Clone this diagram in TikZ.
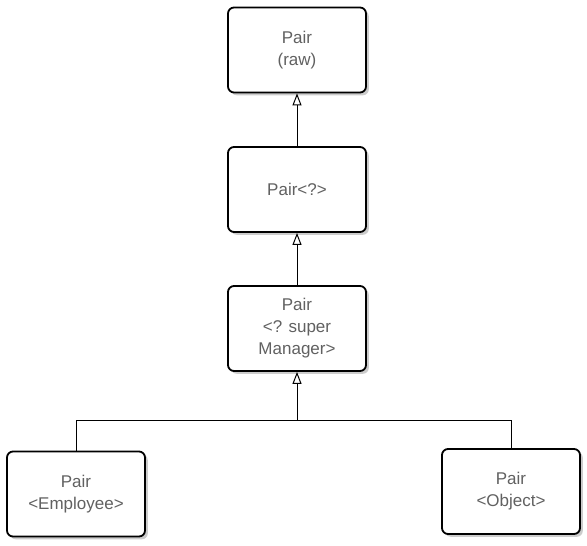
\documentclass[tikz,border=0pt]{standalone}
\usepackage{fontspec}
\setmainfont{Liberation Sans}
\usetikzlibrary{arrows.meta,shadows}

\tikzset{
  cls/.style={draw, rounded corners=3pt, line width=0.9pt, fill=white,
    minimum width=69pt, minimum height=42.5pt, align=center, text=black!62,
    font=\fontsize{8.5}{11}\selectfont,
    drop shadow={shadow xshift=1.4pt, shadow yshift=-1.4pt, fill=black!40}},
  inherit/.style={line width=0.5pt, -{Triangle[open, width=4.5pt, length=6pt]}}
}

\begin{document}
\begin{tikzpicture}[x=0.5pt, y=-0.5pt]
    \useasboundingbox (0,0) rectangle (587,545);

    % Draw class boxes
    \node[cls] (raw) at (297,50) {Pair\\(raw)};
    \node[cls] (wild) at (297,189.5) {Pair<?>};
    \node[cls] (super) at (297,328.5) {Pair\\<? super\\Manager>};
    \node[cls] (emp) at (76,494) {Pair\\<Employee>};
    \node[cls] (obj) at (511,491.5) {Pair\\<Object>};

    % Draw inheritance arrows
    \draw[inherit] (wild) -- (raw);
    \draw[inherit] (super) -- (wild);
    \coordinate (fork) at (297,420);
    \draw[inherit] (emp.north) |- (fork) -- (super);
    \draw[line width=0.5pt] (obj.north) |- (fork);
\end{tikzpicture}
\end{document}
